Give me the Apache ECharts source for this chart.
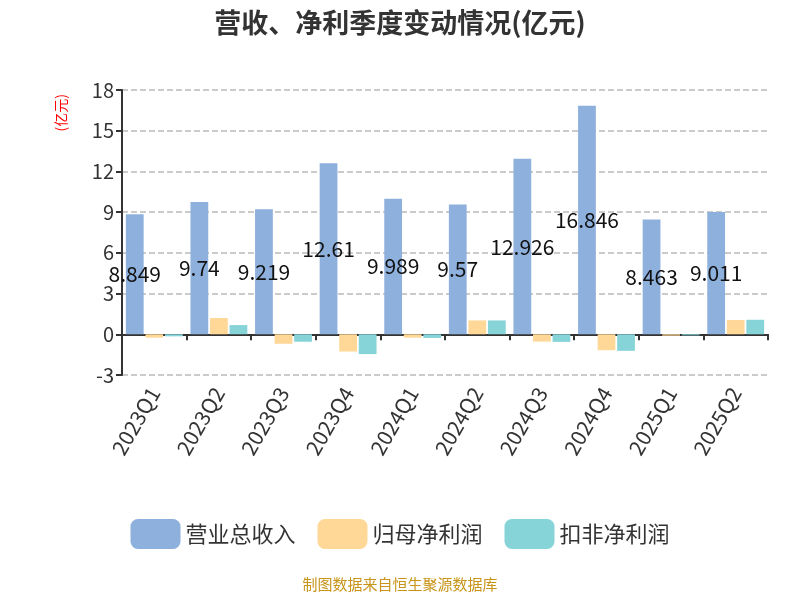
<!DOCTYPE html>
<html>
<head>
<meta charset="utf-8">
<script src="https://cdn.jsdelivr.net/npm/echarts@6/dist/echarts.min.js"></script>
<style>html,body{margin:0;padding:0;}#chart{width:800px;height:600px;}</style>
</head>
<body>
<div id="chart"></div>
<script>
// 季度
const quarters = ['2023Q1', '2023Q2', '2023Q3', '2023Q4', '2024Q1', '2024Q2', '2024Q3', '2024Q4', '2025Q1', '2025Q2'];
// 营业总收入
const revenue = [8.849, 9.74, 9.219, 12.61, 9.989, 9.57, 12.926, 16.846, 8.463, 9.011];
// 归母净利润
const netProfit = [-0.25, 1.2, -0.7, -1.27, -0.25, 1.02, -0.54, -1.17, -0.1, 1.05];
// 扣非净利润
const deductedProfit = [-0.15, 0.68, -0.55, -1.46, -0.27, 1.02, -0.56, -1.22, -0.08, 1.07];

const chart = echarts.init(document.getElementById('chart'));
const font = '"Noto Sans CJK SC", "Noto Sans", sans-serif';

const option = {
  animation: false,
  textStyle: { fontFamily: font },
  title: {
    text: '营收、净利季度变动情况(亿元)',
    left: 'center',
    top: 4,
    textStyle: { fontSize: 27, fontWeight: 'bold', color: '#333', fontFamily: font },
  },
  color: ['#8eb0dc', '#ffd898', '#86d4d8'],
  legend: {
    bottom: 46,
    itemWidth: 50,
    itemHeight: 30,
    itemGap: 22,
    icon: 'roundRect',
    textStyle: { fontSize: 22, color: '#333' },
    data: ['营业总收入', '归母净利润', '扣非净利润'],
  },
  graphic: [
    {
      type: 'text',
      left: 54,
      top: 94,
      rotation: Math.PI / 2,
      style: { text: '(亿元)', fill: 'red', fontSize: 14, fontFamily: font },
    },
    {
      type: 'text',
      left: 'center',
      bottom: 8,
      style: { text: '制图数据来自恒生聚源数据库', fill: '#c8941a', fontSize: 15, fontFamily: font },
    },
  ],
  grid: { left: 122, right: 32, top: 90, bottom: 225 },
  xAxis: {
    type: 'category',
    data: quarters,
    axisLine: { onZero: true, lineStyle: { color: '#333', width: 2 } },
    axisTick: { show: true, length: 6, lineStyle: { color: '#333', width: 2 } },
    axisLabel: { rotate: 60, fontSize: 21, color: '#333', interval: 0, margin: 14 },
  },
  yAxis: {
    type: 'value',
    min: -3,
    max: 18,
    interval: 3,
    axisLine: { show: true, lineStyle: { color: '#333', width: 2 } },
    axisTick: { show: true, length: 6, lineStyle: { color: '#333', width: 2 } },
    axisLabel: { fontSize: 20, color: '#333' },
    splitLine: { lineStyle: { type: 'dashed', color: '#bbb', width: 1.5 } },
  },
  series: [
    {
      name: '营业总收入',
      type: 'bar',
      data: revenue,
      barGap: '10%',
      barCategoryGap: '12%',
      label: { show: true, position: 'inside', fontSize: 21, color: '#111' },
    },
    { name: '归母净利润', type: 'bar', data: netProfit },
    { name: '扣非净利润', type: 'bar', data: deductedProfit },
  ],
};
chart.setOption(option);
</script>
</body>
</html>
